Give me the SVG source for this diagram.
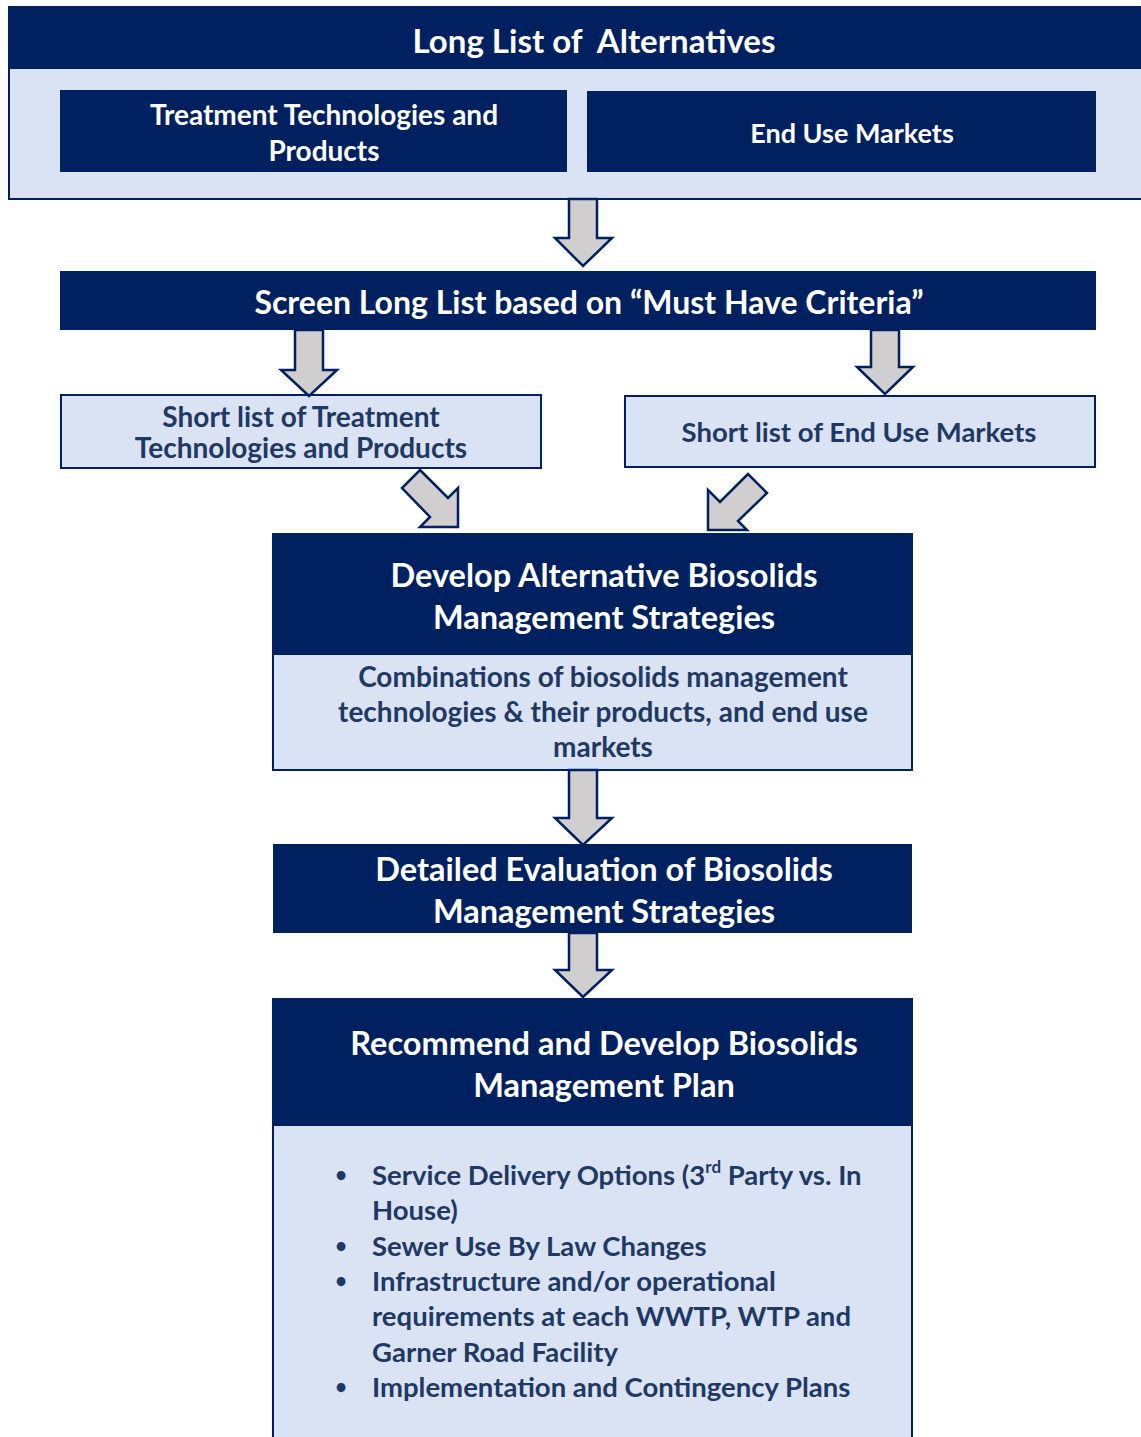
<svg xmlns="http://www.w3.org/2000/svg" width="1141" height="1437" viewBox="0 0 1141 1437">
<style>
.dk{fill:#002060;}
.lt{fill:#dae3f3;stroke:#002060;stroke-width:2;}
.arr{fill:#d0cece;stroke:#002060;stroke-width:2.5;stroke-linejoin:miter;}
text{font-family:Lato,"Liberation Sans",sans-serif;font-weight:bold;text-anchor:middle;dominant-baseline:central;}
.w{fill:#ffffff;}
.n{fill:#1f3864;}
.h33{font-size:33px;}
.h32{font-size:32px;}
.h30{font-size:32.5px;}
.h28{font-size:28px;}
.h27{font-size:27px;}
.s28{font-size:28px;}
.s275{font-size:27.5px;}
.b26{font-size:27.5px;}
.bu{font-size:20px;}
.bl{text-anchor:start;}
</style>
<rect width="1141" height="1437" fill="#ffffff"/>
<g id="longlist">
<rect class="lt" x="9" y="7" width="1140" height="192"/>
<rect class="dk" x="9" y="7" width="1140" height="62"/>
<text class="w h33" x="594" y="40" xml:space="preserve">Long List of  Alternatives</text>
</g>
<g id="treatment">
<rect class="dk" x="60" y="90" width="507" height="82"/>
<text class="w h28" x="324" y="114">Treatment Technologies and</text>
<text class="w h28" x="324" y="150">Products</text>
</g>
<g id="enduse">
<rect class="dk" x="587" y="91" width="509" height="81"/>
<text class="w h27" x="852" y="132">End Use Markets</text>
</g>
<g id="screen">
<rect class="dk" x="60" y="271" width="1036" height="59"/>
<text class="w h32" x="589" y="301">Screen Long List based on “Must Have Criteria”</text>
</g>
<g id="shortleft">
<rect class="lt" x="61" y="395" width="480" height="73"/>
<text class="n s28" x="301" y="416">Short list of Treatment</text>
<text class="n s28" x="301" y="447">Technologies and Products</text>
</g>
<g id="shortright">
<rect class="lt" x="625" y="396" width="470" height="71"/>
<text class="n s275" x="859" y="431">Short list of End Use Markets</text>
</g>
<g id="develop">
<rect class="lt" x="273" y="534" width="639" height="236"/>
<rect class="dk" x="273" y="534" width="639" height="121"/>
<text class="w h30" x="604" y="574">Develop Alternative Biosolids</text>
<text class="w h30" x="604" y="616">Management Strategies</text>
<text class="n s28" x="603" y="676">Combinations of biosolids management</text>
<text class="n s28" x="603" y="711">technologies &amp; their products, and end use</text>
<text class="n s28" x="603" y="746">markets</text>
</g>
<g id="detailed">
<rect class="dk" x="273" y="844" width="639" height="89"/>
<text class="w h30" x="604" y="868">Detailed Evaluation of Biosolids</text>
<text class="w h30" x="604" y="910">Management Strategies</text>
</g>
<g id="recommend">
<rect class="lt" x="273" y="999" width="639" height="450"/>
<rect class="dk" x="273" y="999" width="639" height="127"/>
<text class="w h30" x="604" y="1042">Recommend and Develop Biosolids</text>
<text class="w h30" x="604" y="1084">Management Plan</text>
<text class="n bu" x="341" y="1174">•</text>
<text class="n b26 bl" x="372" y="1174">Service Delivery Options (3<tspan font-size="17" dy="-8">rd</tspan><tspan dy="8"> Party vs. In</tspan></text>
<text class="n b26 bl" x="372" y="1209">House)</text>
<text class="n bu" x="341" y="1245">•</text>
<text class="n b26 bl" x="372" y="1245">Sewer Use By Law Changes</text>
<text class="n bu" x="341" y="1280">•</text>
<text class="n b26 bl" x="372" y="1280">Infrastructure and/or operational</text>
<text class="n b26 bl" x="372" y="1315">requirements at each WWTP, WTP and</text>
<text class="n b26 bl" x="372" y="1351">Garner Road Facility</text>
<text class="n bu" x="341" y="1386">•</text>
<text class="n b26 bl" x="372" y="1386">Implementation and Contingency Plans</text>
</g>
<g id="connectors">
<polygon class="arr" points="569,199 597,199 597,238 612,238 583,266 555,238 569,238"/>
<polygon class="arr" points="295,330 323,330 323,370 337,370 309,396 281,370 295,370"/>
<polygon class="arr" points="871,330 899,330 899,367 913,367 885,394 857,367 871,367"/>
<polygon class="arr" points="420,470 448,498 458,488 458,527 420,527 430,517 402,488"/>
<polygon class="arr" points="748,474 720,502 708,490 708,530 747,530 738,521 767,493"/>
<polygon class="arr" points="569,770 597,770 597,818 612,818 583,845 555,818 569,818"/>
<polygon class="arr" points="569,933 597,933 597,970 612,970 583,997 555,970 569,970"/>
</g>
</svg>
